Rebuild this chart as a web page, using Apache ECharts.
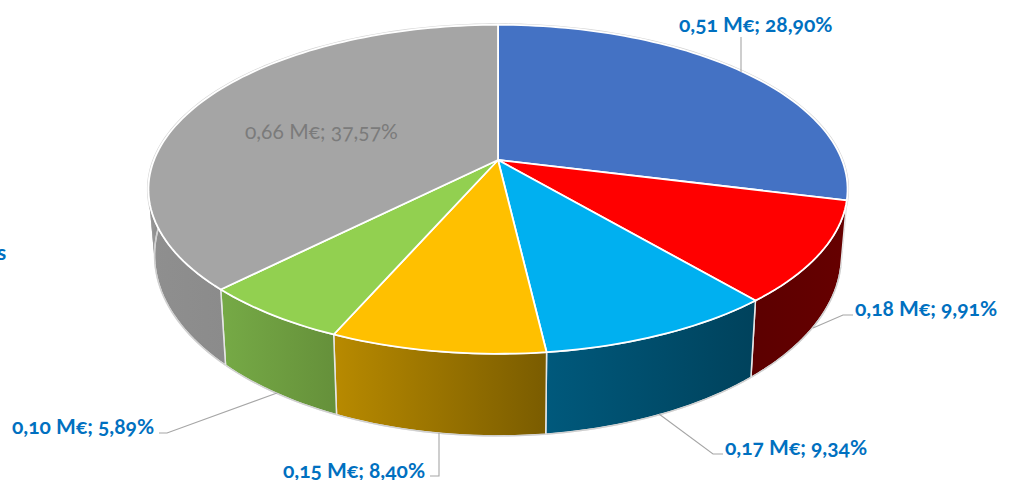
<!DOCTYPE html>
<html>
<head>
<meta charset="utf-8">
<style>
html,body{margin:0;padding:0;background:#fff}
#c{width:1011px;height:480px}
svg text{font-variant-numeric:oldstyle-nums !important;font-feature-settings:"onum" 1 !important}
</style>
<script src="https://cdn.jsdelivr.net/npm/echarts@6/dist/echarts.min.js"></script>
</head>
<body>
<div id="c"></div>
<script>
// ---- data ----
const amounts = [0.51, 0.18, 0.17, 0.15, 0.10, 0.66];
const shares  = [28.90, 9.91, 9.34, 8.40, 5.89, 37.57];
const topColors = ['#4472C4', '#FF0000', '#00B0F0', '#FFC000', '#92D050', '#A5A5A5'];
const wallFrom  = ['#5c0000', '#5c0000', '#00597c', '#b88a00', '#76aa46', '#8f8f8f'];
const wallTo    = ['#5c0000', '#660000', '#00425c', '#7a5c00', '#65903a', '#8b8b8b'];

// ---- perspective disc model (layout, not data) ----
const TOP = {cx: 498, cy: 160, a: 344, b: 159.3, k: 0.178};
const BOT = {cx: 498, cy: 223, a: 338, b: 175, k: 0.178};
const WALL_MIN = 85, WALL_MAX = 275;
const STEP = 1.5;
function pt(d, deg) {
  const t = deg * Math.PI / 180, x = Math.sin(t), y = -Math.cos(t), w = 1 - d.k * y;
  return [d.cx + d.a * x / w, d.cy + d.b * y / w];
}
function arc(d, from, to) {
  const out = [], n = Math.max(1, Math.ceil(Math.abs(to - from) / STEP));
  for (let i = 0; i <= n; i++) out.push(pt(d, from + (to - from) * i / n));
  return out;
}
const totalShare = shares.reduce((s, v) => s + v, 0);
function sliceRange(i) {
  let acc = 0;
  for (let j = 0; j < i; j++) acc += shares[j];
  return [acc / totalShare * 360, (acc + shares[i]) / totalShare * 360];
}
const fmt = (v, d) => v.toFixed(d).replace('.', ',');
const labelText = i => fmt(amounts[i], 2) + ' M\u20AC; ' + fmt(shares[i], 2) + '%';

const BLUE = '#0070C0';
const FONT_B = 'bold 21px Lato, "Open Sans", sans-serif';
const FONT_R = '21px Lato, "Open Sans", sans-serif';
// label anchor (left x, middle y) and leader path per slice
const labelPlace = [
  {x: 679, y: 23, fill: BLUE, font: FONT_B, line: [[741, 72], [741, 37]]},
  {x: 855, y: 307, fill: BLUE, font: FONT_B, line: [[813, 328], [843, 315], [853, 315]]},
  {x: 725, y: 446, fill: BLUE, font: FONT_B, line: [[659, 414], [713, 454], [723, 454]]},
  {x: 283, y: 469, fill: BLUE, font: FONT_B, line: [[439, 433], [439, 476], [430, 476]]},
  {x: 12, y: 425, fill: BLUE, font: FONT_B, line: [[277, 393], [167, 433], [159, 433]]},
  {x: 245, y: 130, fill: '#7b7b7b', font: FONT_R, line: null}
];
const indices = shares.map((_, i) => [i]);

function renderWall(params) {
  const i = params.dataIndex, r = sliceRange(i);
  const from = Math.max(r[0], WALL_MIN), to = Math.min(r[1], WALL_MAX);
  if (to <= from) return {type: 'group', children: []};
  const top = arc(TOP, from, to), bot = arc(BOT, from, to);
  const pts = top.concat(bot.slice().reverse());
  const xs = pts.map(p => p[0]);
  const fill = {type: 'linear', global: true, x: Math.min(...xs), y: 0, x2: Math.max(...xs), y2: 0,
                colorStops: [{offset: 0, color: wallFrom[i]}, {offset: 1, color: wallTo[i]}]};
  const kids = [];
  // narrow strips so the silhouette bridges the top and bottom rims
  for (let j = 0; j + 1 < top.length; j++) {
    kids.push({type: 'polygon', shape: {points: [top[j], top[j + 1], bot[j + 1], bot[j]]},
               style: {fill: fill, stroke: null}});
  }
  kids.push({type: 'polygon', shape: {points: pts},
             style: {fill: fill, stroke: '#e6e6e6', lineWidth: 1.5, lineJoin: 'round'}});
  kids.push({type: 'polyline', shape: {points: bot},
             style: {fill: null, stroke: '#cfcfcf', lineWidth: 1.3}});
  return {type: 'group', children: kids};
}
function renderRim(params) {
  const r = sliceRange(params.dataIndex);
  return {type: 'polyline', shape: {points: arc(TOP, r[0], r[1])},
          style: {fill: null, stroke: '#d6d6d6', lineWidth: 3}};
}
function renderTop(params) {
  const i = params.dataIndex, r = sliceRange(i);
  const pts = [[TOP.cx, TOP.cy]].concat(arc(TOP, r[0], r[1]));
  return {type: 'polygon', shape: {points: pts},
          style: {fill: topColors[i], stroke: '#ffffff', lineWidth: 1.8, lineJoin: 'round'}};
}
function renderLabel(params) {
  const i = params.dataIndex, p = labelPlace[i], kids = [];
  if (p.line) kids.push({type: 'polyline', shape: {points: p.line},
                         style: {fill: null, stroke: '#a6a6a6', lineWidth: 1.1}});
  kids.push({type: 'text', x: p.x, y: p.y,
             style: {text: labelText(i), fill: p.fill, font: p.font, align: 'left', verticalAlign: 'middle'}});
  return {type: 'group', children: kids};
}
const base = {type: 'custom', coordinateSystem: 'none', data: indices, silent: true, animation: false};
const chart = echarts.init(document.getElementById('c'), null, {renderer: 'svg'});
chart.setOption({
  animation: false,
  backgroundColor: '#fff',
  tooltip: {show: false},
  graphic: [
    {type: 'text', left: -3, top: 241, style: {text: 's', fill: BLUE, font: FONT_B}}
  ],
  series: [
    Object.assign({}, base, {name: 'rim', z: 1, renderItem: renderRim}),
    Object.assign({}, base, {name: 'walls', z: 2, renderItem: renderWall}),
    Object.assign({}, base, {name: 'tops', z: 3, renderItem: renderTop}),
    Object.assign({}, base, {name: 'labels', z: 4, renderItem: renderLabel})
  ]
});
</script>
</body>
</html>
